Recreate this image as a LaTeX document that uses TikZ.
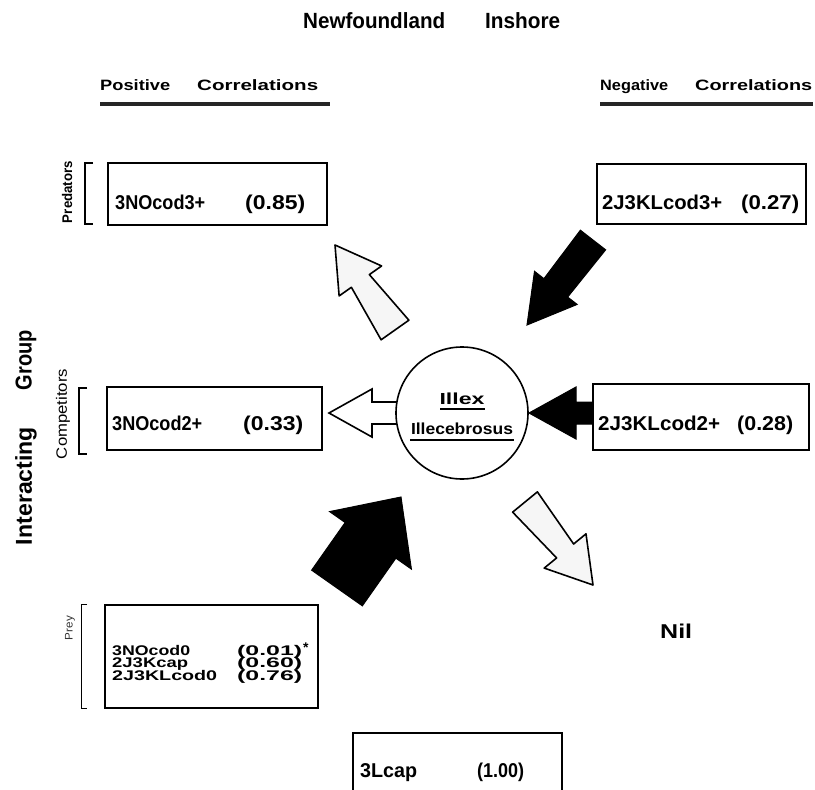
\documentclass[tikz,border=0pt]{standalone}
\usepackage{fontspec}
\setmainfont{Liberation Sans}
\usepackage{graphicx}
\usetikzlibrary{calc}
\newcommand{\wtxt}[2]{\resizebox{#1}{\height}{#2}}
% #1 style, #2 tail coordinate, #3 tip coordinate, #4 head length, #5 head half-width, #6 tail half-width, #7 neck half-width
\newcommand{\blockarrow}[7]{%
  \coordinate (ba-n) at ($(#3)!#4!(#2)$);
  \draw[#1] ($(#2)!#6!90:(#3)$) -- ($(ba-n)!#7!90:(#3)$) -- ($(ba-n)!#5!90:(#3)$) -- (#3)
    -- ($(ba-n)!#5!-90:(#3)$) -- ($(ba-n)!#7!-90:(#3)$) -- ($(#2)!#6!-90:(#3)$) -- cycle;}
\begin{document}
\begin{tikzpicture}[x=1pt,y=-1pt,
  box/.style={draw, line width=2pt, inner sep=0pt},
  lbl/.style={inner sep=0pt, anchor=base west, font=\bfseries\fontsize{20}{20}\selectfont},
  small/.style={inner sep=0pt, anchor=base west, font=\bfseries\fontsize{14}{14}\selectfont},
  headtxt/.style={inner sep=0pt, anchor=base west, font=\bfseries\fontsize{15}{15}\selectfont},
  titletxt/.style={inner sep=0pt, anchor=base west, font=\bfseries\fontsize{22}{22}\selectfont},
  side/.style={inner sep=0pt, rotate=90, font=\bfseries\fontsize{23}{23}\selectfont},
  rule/.style={line width=3.5pt, black!85},
  brk/.style={line width=1.5pt},
  dark/.style={fill=black, draw=black, line width=1pt, line join=miter},
  pale/.style={fill=gray!7, draw=black, line width=1.6pt, line join=round},
  hollow/.style={fill=white, draw=black, line width=1.6pt, line join=miter}]

\useasboundingbox (0,0) rectangle (815,790);

% title and headers
\node[titletxt] (t1) at (303,28) {\wtxt{142pt}{Newfoundland}};
\node[titletxt] (t2) at (485,28) {\wtxt{75pt}{Inshore}};
\node[headtxt] (pos1) at (100,90) {\wtxt{70pt}{Positive}};
\node[headtxt] (pos2) at (197,90) {\wtxt{121pt}{Correlations}};
\node[headtxt] (neg1) at (600,90) {\wtxt{68pt}{Negative}};
\node[headtxt] (neg2) at (695,90) {\wtxt{117pt}{Correlations}};
\draw[rule] (100,104) -- (330,104);
\draw[rule] (600,104) -- (813,104);

% side labels
\node[side] (grp) at (26,360) {\wtxt{60pt}{Group}};
\node[side] (inter) at (26,486) {\wtxt{118pt}{Interacting}};
\node[inner sep=0pt, rotate=90, font=\bfseries\fontsize{14}{14}\selectfont] (pred) at (67,192) {\wtxt{62pt}{Predators}};
\node[inner sep=0pt, rotate=90, font=\fontsize{15}{15}\selectfont] (comp) at (63,414) {\wtxt{90pt}{Competitors}};
\node[inner sep=0pt, rotate=90, font=\fontsize{11}{11}\selectfont, black!80] (prey) at (70,628) {\wtxt{24pt}{Prey}};
\draw[brk] (93,163) -- (85,163) -- (85,224) -- (93,224);
\draw[brk] (87,388) -- (79,388) -- (79,454) -- (87,454);
\draw[line width=1pt] (87,604) -- (81,604) -- (81,708) -- (87,708);

% boxes
\node[box, minimum width=219pt, minimum height=62pt] (b1) at (217.5,194) {};
\node[box, minimum width=209pt, minimum height=60pt] (b2) at (701.5,194) {};
\node[box, minimum width=215pt, minimum height=63pt] (b3) at (214.5,418.5) {};
\node[box, minimum width=216pt, minimum height=66pt] (b4) at (701,417) {};
\node[box, minimum width=213pt, minimum height=103pt] (b5) at (211.5,656.5) {};
\node[box, minimum width=209pt, minimum height=67pt] (b6) at (457.5,766.5) {};

\node[lbl] (l1a) at (115,209) {\wtxt{90pt}{3NOcod3+}};
\node[lbl] (l1b) at (245,209) {\wtxt{60pt}{(0.85)}};
\node[lbl] (l2a) at (602,209) {\wtxt{120pt}{2J3KLcod3+}};
\node[lbl] (l2b) at (741,209) {\wtxt{58pt}{(0.27)}};
\node[lbl] (l3a) at (112,430) {\wtxt{90pt}{3NOcod2+}};
\node[lbl] (l3b) at (243,430) {\wtxt{60pt}{(0.33)}};
\node[lbl] (l4a) at (598,430) {\wtxt{122pt}{2J3KLcod2+}};
\node[lbl] (l4b) at (737,430) {\wtxt{56pt}{(0.28)}};
\node[small] (l5a) at (112,655) {\wtxt{78pt}{3NOcod0}};
\node[small] (l5b) at (112,667.5) {\wtxt{76pt}{2J3Kcap}};
\node[small] (l5c) at (112,680) {\wtxt{105pt}{2J3KLcod0}};
\node[small] (v5a) at (237,655) {\wtxt{65pt}{(0.01)}};
\node[small] (v5b) at (237,667.5) {\wtxt{65pt}{(0.60)}};
\node[small] (v5c) at (237,680) {\wtxt{65pt}{(0.76)}};
\node[small] (ast) at (303,652) {*};
\node[lbl] (l6a) at (360,777) {\wtxt{57pt}{3Lcap}};
\node[lbl] (l6b) at (477,777) {\wtxt{47pt}{(1.00)}};
\node[lbl] (nil) at (660,638) {\wtxt{32pt}{Nil}};

% arrows
\coordinate (a1t) at (395,330); \coordinate (a1h) at (335,245);
\coordinate (a2t) at (593,240); \coordinate (a2h) at (527,325);
\coordinate (a3t) at (398,413); \coordinate (a3h) at (329,413);
\coordinate (a4t) at (593,413); \coordinate (a4h) at (529,413);
\coordinate (a5t) at (337,588); \coordinate (a5h) at (401,497);
\coordinate (a6t) at (525,502); \coordinate (a6h) at (593,585);
\blockarrow{pale}{a1t}{a1h}{44pt}{26pt}{17pt}{11pt}
\blockarrow{dark}{a2t}{a2h}{47pt}{27pt}{16pt}{15pt}
\blockarrow{hollow}{a3t}{a3h}{43pt}{24pt}{11pt}{11pt}
\blockarrow{dark}{a4t}{a4h}{47pt}{26pt}{11pt}{11pt}
\blockarrow{dark}{a5t}{a5h}{53pt}{50pt}{31pt}{31pt}
\blockarrow{pale}{a6t}{a6h}{44pt}{27pt}{16pt}{11pt}

% central circle
\node[draw, fill=white, circle, line width=1.6pt, minimum size=132pt, inner sep=0pt] (ill) at (462,413) {};
\node[inner sep=0pt, anchor=base, font=\bfseries\fontsize{16}{16}\selectfont] (illex) at (462,404) {\wtxt{45pt}{Illex}};
\draw[line width=2pt] (440,409) -- (485,409);
\node[inner sep=0pt, anchor=base, font=\bfseries\fontsize{16}{16}\selectfont] (illec) at (462,434) {\wtxt{102pt}{Illecebrosus}};
\draw[line width=2pt] (410,440) -- (514,440);
\end{tikzpicture}
\end{document}
